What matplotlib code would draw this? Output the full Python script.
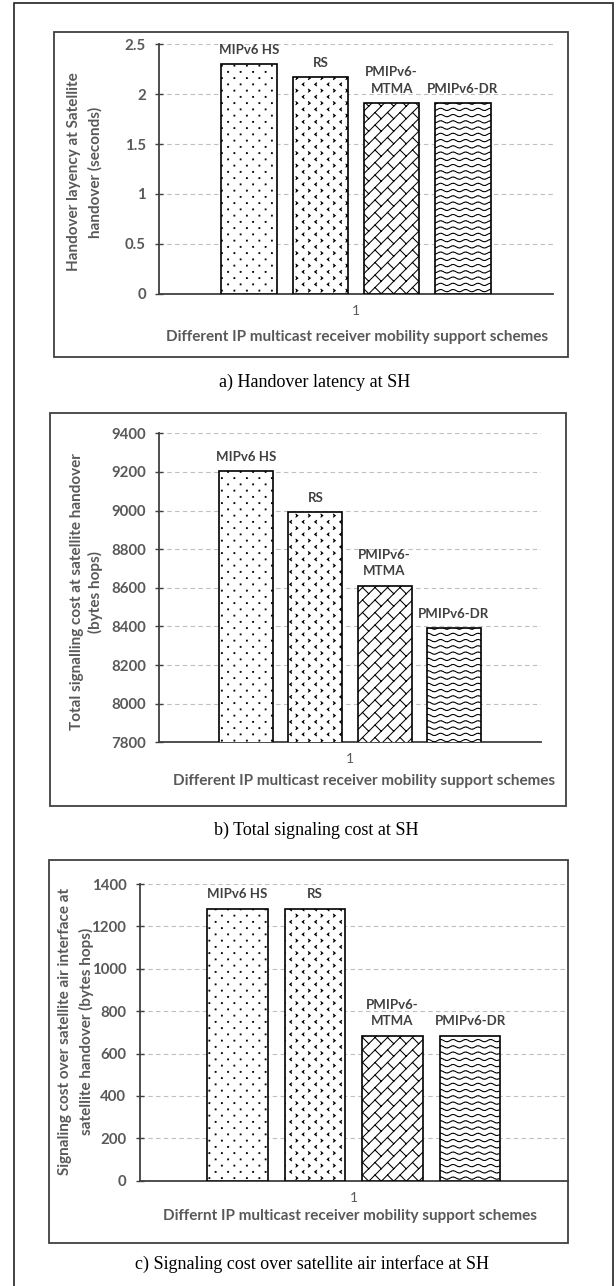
import warnings
warnings.filterwarnings('ignore')
import numpy as np
import matplotlib
matplotlib.use('Agg')
import matplotlib.pyplot as plt
import matplotlib.hatch as mhatch
from matplotlib.path import Path
from matplotlib.patches import Rectangle

# ---------------- data ----------------
schemes = ['MIPv6 HS', 'RS', 'PMIPv6-\nMTMA', 'PMIPv6-DR']
category = ['1']

latency_values = [2.30, 2.17, 1.91, 1.91]
latency_ticks = [0, 0.5, 1, 1.5, 2, 2.5]
latency_ticklabels = ['0', '0.5', '1', '1.5', '2', '2.5']

total_cost_values = [9205, 8990, 8610, 8390]
total_cost_ticks = [7800, 8000, 8200, 8400, 8600, 8800, 9000, 9200, 9400]
total_cost_ticklabels = [str(v) for v in total_cost_ticks]

air_cost_values = [1284, 1284, 684, 684]
air_cost_ticks = [0, 200, 400, 600, 800, 1000, 1200, 1400]
air_cost_ticklabels = [str(v) for v in air_cost_ticks]

ylabels = ['Handover layency at Satellite\nhandover (seconds)',
           'Total signalling cost at satellite handover\n(bytes hops)',
           'Signaling cost over satellite air interface at\nsatellite handover (bytes hops)']
xlabels = ['Different IP multicast receiver mobility support schemes',
           'Different IP multicast receiver mobility support schemes',
           'Differnt IP multicast receiver mobility support schemes']
captions = ['a) Handover latency at SH',
            'b) Total signaling cost at SH',
            'c) Signaling cost over satellite air interface at SH']


# ---------------- custom hatch textures ----------------
class _SegHatch(mhatch.HatchPatternBase):
    key = '?'

    def __init__(self, hatch, density):
        self._segs = self.segments() if (hatch and self.key in hatch) else []
        self.num_vertices = sum(len(s) for s, _ in self._segs)

    def segments(self):
        return []

    def set_vertices_and_codes(self, vertices, codes):
        i = 0
        for s, closed in self._segs:
            n = len(s)
            vertices[i:i + n] = s
            codes[i] = Path.MOVETO
            codes[i + 1:i + n] = Path.LINETO
            if closed:
                codes[i + n - 1] = Path.CLOSEPOLY
            i += n


class DotHatch(_SegHatch):
    key = 'd'

    def segments(self):
        segs = []
        nx, ny, h = 8, 16, 0.004
        for r in range(ny):
            y = (r + 0.5) / ny
            for c in range(nx):
                x = (c + 0.25 + 0.5 * (r % 2)) / nx
                segs.append((np.array([[x - h, y - h], [x + h, y - h], [x + h, y + h],
                                       [x - h, y + h], [x - h, y - h]]), True))
        return segs


class ChevronHatch(_SegHatch):
    key = 'c'

    def segments(self):
        segs = []
        nx, ny, a, b = 8, 16, 0.009, 0.014
        for r in range(ny):
            y = (r + 0.5) / ny
            for c in range(nx):
                x = (c + 0.25 + 0.5 * (r % 2)) / nx
                if r % 2 == 0:
                    pts = [[x + a, y + b], [x - a, y], [x + a, y - b]]
                else:
                    pts = [[x - a, y + b], [x + a, y], [x - a, y - b]]
                segs.append((np.array(pts), False))
        return segs


class BrickHatch(_SegHatch):
    key = 'b'

    def segments(self):
        segs = []
        n = 8
        for k in range(-n - 1, n + 2):
            c0 = k / n
            segs.append((np.array([[-0.2, -0.2 + c0], [1.2, 1.2 + c0]]), False))
            for j in range(-2, n + 2):
                x0 = j / n
                y0 = x0 + c0
                segs.append((np.array([[x0, y0], [x0 + 0.5 / n, y0 - 0.5 / n]]), False))
        return segs


class WaveHatch(_SegHatch):
    key = 'w'

    def segments(self):
        segs = []
        ny, per, amp = 16, 8, 0.011
        npieces = 48
        for r in range(ny):
            y = (r + 0.5) / ny
            for q in range(npieces):
                xs = np.linspace(q / npieces, (q + 0.6) / npieces, 4)
                segs.append((np.column_stack([xs, y + amp * np.sin(2 * np.pi * per * xs)]), False))
        return segs


mhatch._hatch_types.extend([DotHatch, ChevronHatch, BrickHatch, WaveHatch])
hatches = ['d', 'c', 'b', 'w']

plt.rcParams['font.family'] = ['Lato', 'DejaVu Sans']
plt.rcParams['hatch.linewidth'] = 0.75
plt.rcParams['hatch.color'] = 'black'

W, H = 616, 1286
fig = plt.figure(figsize=(W / 100, H / 100), dpi=100)


def add_ax(l, t, r, b):
    return fig.add_axes([l / W, 1 - b / H, (r - l) / W, (b - t) / H])


def frame(l, t, r, b, lw, color):
    fig.add_artist(Rectangle((l / W, 1 - b / H), (r - l) / W, (b - t) / H,
                             transform=fig.transFigure, fill=False, lw=lw,
                             ec=color, clip_on=False))


# outer frame
frame(14, 3, 613, 1300, 1.2, '#222222')

GRAY = '#595959'
DARK = '#404040'

panels = [
    dict(vals=latency_values, ticks=latency_ticks, tl=latency_ticklabels,
         ax=(159, 44.3, 553, 293.7), box=(54, 32, 568, 357),
         ylab=(84.5, 172, 1.62), xlab=(357, 337), cap=(315, 382)),
    dict(vals=total_cost_values, ticks=total_cost_ticks, tl=total_cost_ticklabels,
         ax=(159, 433.3, 541, 742.3), box=(50, 413, 566, 805.7),
         ylab=(86.5, 592, 1.34), xlab=(364, 781), cap=(316, 830)),
    dict(vals=air_cost_values, ticks=air_cost_ticks, tl=air_cost_ticklabels,
         ax=(139.5, 884, 568, 1180.7), box=(49, 860, 568, 1243),
         ylab=(76, 1031, 1.55), xlab=(350, 1216), cap=(312, 1264)),
]

offsets = (np.arange(len(schemes)) - 1.5) * 0.181
bw = 0.141

for i, p in enumerate(panels):
    frame(*p['box'], 1.3, DARK)
    ax = add_ax(*p['ax'])
    ax.set_xlim(0.5, 1.5)
    ax.set_ylim(p['ticks'][0], p['ticks'][-1])
    ax.set_yticks(p['ticks'])
    ax.set_yticklabels(p['tl'], fontsize=10.8, fontweight='bold', color=GRAY)
    ax.set_xticks([1])
    ax.set_xticklabels(category, fontsize=10, color=GRAY)
    for s in ['top', 'right']:
        ax.spines[s].set_visible(False)
    for s in ['left', 'bottom']:
        ax.spines[s].set_color(DARK)
        ax.spines[s].set_linewidth(1.3)
    ax.tick_params(axis='y', direction='inout', length=6, width=1, color=DARK, pad=6.5)
    ax.tick_params(axis='x', length=0, pad=8)
    ax.set_axisbelow(True)
    ax.grid(axis='y', color='#bfbfbf', lw=0.8, ls=(0, (4, 3)))
    ax.patch.set_alpha(0)
    bars = ax.bar(1 + offsets, p['vals'], width=bw, color='white',
                  edgecolor='black', linewidth=1.2, zorder=3)
    for b, h in zip(bars, hatches):
        b.set_hatch(h)
    for x, v, name in zip(1 + offsets, p['vals'], schemes):
        ax.annotate(name, (x, v), xytext=(0, 7.5), textcoords='offset points',
                    ha='center', va='baseline', fontsize=9.5, fontweight='bold',
                    color=DARK, linespacing=1.43, zorder=5)
    yx, yy, ls = p['ylab']
    fig.text(yx / W, 1 - yy / H, ylabels[i], rotation=90, ha='center', va='center',
             multialignment='center', fontsize=11, fontweight='bold', color=GRAY,
             linespacing=ls)
    fig.text(p['xlab'][0] / W, 1 - p['xlab'][1] / H, xlabels[i], ha='center',
             va='center', fontsize=11, fontweight='bold', color=GRAY)
    fig.text(p['cap'][0] / W, 1 - p['cap'][1] / H, captions[i], ha='center',
             va='center', fontsize=13, family=['Liberation Serif', 'DejaVu Serif'],
             color='black')

fig.savefig('out.png', dpi=100)
